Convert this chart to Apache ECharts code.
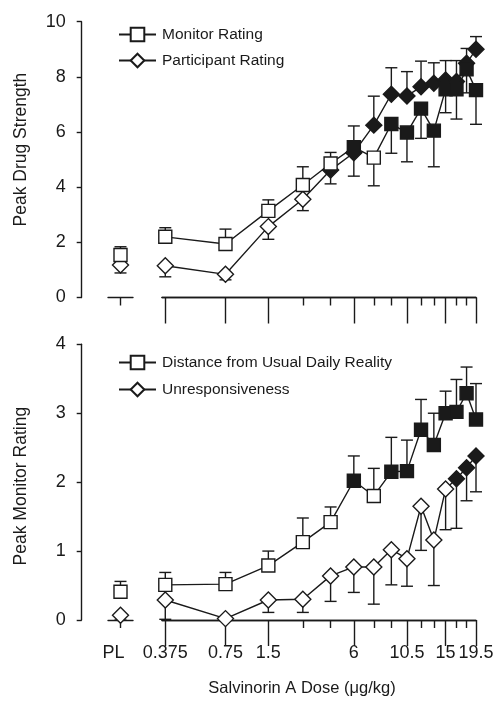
<!DOCTYPE html>
<html><head><meta charset="utf-8">
<script src="https://cdn.jsdelivr.net/npm/echarts@6/dist/echarts.min.js"></script>
<style>html,body{margin:0;padding:0;background:#fff}#c{width:500px;height:710px}</style>
</head><body><div id="c"></div>
<script>
// ---------- data ----------
const doses = [0.375, 0.75, 1.5, 3, 4.5, 6, 7.5, 9, 10.5, 12, 13.5, 15, 16.5, 18, 19.5];
const majorTickDoses = [0.375, 0.75, 1.5, 6, 10.5, 15, 19.5];
const minorTickDoses = [3, 4.5, 7.5, 9, 12, 13.5, 16.5, 18];
const doseTickLabels = ['0.375', '0.75', '1.5', '6', '10.5', '15', '19.5'];
const placeboLabel = 'PL';

// Top panel: Peak Drug Strength
const monitorMean = [2.20, 1.94, 3.14, 4.08, 4.86, 5.45, 5.07, 6.29, 5.98, 6.85, 6.05, 7.55, 7.55, 8.27, 7.52];
const monitorErr  = [0.33, 0.54, 0.40, 0.66, 0.40, 0.77, 1.02, 1.06, 1.06, 1.08, 1.31, 0.85, 1.08, 0.85, 1.24];
const monitorSig  = [0, 0, 0, 0, 0, 1, 0, 1, 1, 1, 1, 1, 1, 1, 1];
const monitorPL = [1.54], monitorPLErr = [0.30];

const participantMean = [1.15, 0.84, 2.57, 3.56, 4.62, 5.25, 6.25, 7.37, 7.31, 7.64, 7.77, 7.89, 7.83, 8.49, 9.00];
const participantErr  = [0.40, 0.20, 0.46, 0.41, 0.50, 0.85, 1.05, 0.96, 0.88, 0.93, 0.74, 0.70, 0.76, 0.54, 0.46];
const participantSig  = [0, 0, 0, 0, 1, 1, 1, 1, 1, 1, 1, 1, 1, 1, 1];
const participantPL = [1.18], participantPLErr = [0.29];

// Bottom panel: Peak Monitor Rating
const distanceMean = [0.51, 0.52, 0.79, 1.13, 1.42, 2.02, 1.80, 2.15, 2.16, 2.76, 2.54, 3.00, 3.02, 3.29, 2.91];
const distanceErr  = [0.18, 0.17, 0.21, 0.35, 0.22, 0.36, 0.40, 0.50, 0.45, 0.44, 0.46, 0.32, 0.47, 0.38, 0.52];
const distanceSig  = [0, 0, 0, 0, 0, 1, 0, 1, 1, 1, 1, 1, 1, 1, 1];
const distancePL = [0.41], distancePLErr = [0.15];

const unrespMean = [0.29, 0.02, 0.29, 0.30, 0.64, 0.77, 0.77, 1.02, 0.89, 1.65, 1.16, 1.90, 2.05, 2.21, 2.38];
const unrespErr  = [0.28, 0.02, 0.18, 0.19, 0.37, 0.37, 0.54, 0.51, 0.40, 0.64, 0.66, 0.59, 0.72, 0.48, 0.52];
const unrespSig  = [0, 0, 0, 0, 0, 0, 0, 0, 0, 0, 0, 0, 1, 1, 1];
const unrespPL = [0.07], unrespPLErr = [0.07];

// ---------- scale ----------
// Dose axis: logarithmic in (dose + 4) from 1.5 upward; the two lowest doses sit on an expanded stretch.
const LOW_DOSE_POS = {0.375: 0.984, 0.75: 1.405};
function doseScale(d) { return d >= 1.5 ? Math.log(d + 4) : LOW_DOSE_POS[d]; }
const xMin = doseScale(0.375) - 0.023;
const xMax = doseScale(19.5);
const PL_POS = 1;

const INK = '#1a1a1a';
const FONT = "'Liberation Sans', Arial, Helvetica, sans-serif";

function dirs(a, b) { return a.map((v, i) => (v >= b[i] ? 1 : -1)); }

function errorSeries(xs, means, errs, dir, xi, yi) {
  return {
    type: 'custom', xAxisIndex: xi, yAxisIndex: yi, silent: true, z: 1, animation: false,
    data: xs.map((x, i) => [x, means[i], means[i] + dir[i] * errs[i]]),
    renderItem(params, api) {
      const p0 = api.coord([api.value(0), api.value(1)]);
      const p1 = api.coord([api.value(0), api.value(2)]);
      const st = {stroke: INK, lineWidth: 1.4};
      return {type: 'group', children: [
        {type: 'line', shape: {x1: p0[0], y1: p0[1], x2: p1[0], y2: p1[1]}, style: st},
        {type: 'line', shape: {x1: p1[0] - 6, y1: p1[1], x2: p1[0] + 6, y2: p1[1]}, style: st}
      ]};
    }
  };
}
function lineSeries(name, symbol, size, xs, means, sig, xi, yi, z) {
  return {
    name, type: 'line', xAxisIndex: xi, yAxisIndex: yi, symbol, symbolSize: size, z,
    showAllSymbol: true, animation: false, silent: true,
    lineStyle: {color: INK, width: 1.4},
    itemStyle: {color: '#fff', borderColor: INK, borderWidth: 1.4},
    emphasis: {disabled: true},
    data: xs.map((x, i) => sig && sig[i] ? {value: [x, means[i]], itemStyle: {color: INK}} : {value: [x, means[i]]})
  };
}

const doseX = doses.map(doseScale);
const plX = [PL_POS];

const topTop = 21.7, topH = 275.8, botTop = 344.3, botH = 275.7;
const gridBoxes = [
  [108, topTop, 25, topH],
  [162, topTop, 314, topH],
  [108, botTop, 25, botH],
  [162, botTop, 314, botH],
  [81.7, topTop, 20, topH],
  [81.7, botTop, 20, botH]
];
const grid = gridBoxes.map(b => ({left: b[0], top: b[1], width: b[2], height: b[3],
  containLabel: false, outerBoundsMode: 'none', show: false}));

const labelMap = majorTickDoses.map((d, i) => [doseScale(d), doseTickLabels[i]]);
function doseLabel(v) {
  let best = labelMap[0];
  labelMap.forEach(p => { if (Math.abs(p[0] - v) < Math.abs(best[0] - v)) best = p; });
  return best[1];
}

const axisLine = {show: true, onZero: false, lineStyle: {color: INK, width: 1.4}};
function plXAxis(gi, showLabel) {
  return {type: 'value', gridIndex: gi, min: 0, max: 2, position: 'bottom',
    axisLine, splitLine: {show: false},
    axisTick: {show: true, length: 8, customValues: [PL_POS], lineStyle: {color: INK, width: 1.4}},
    axisLabel: {show: showLabel, customValues: [PL_POS], formatter: () => placeboLabel,
      margin: 24, fontSize: 18, color: INK, fontFamily: FONT, padding: [0, 14, 0, 0]}};
}
function mainXAxis(gi, ticks, len, showLabel, withName) {
  const ax = {type: 'value', gridIndex: gi, min: xMin, max: xMax, position: 'bottom',
    axisLine, splitLine: {show: false},
    axisTick: {show: true, length: len, customValues: ticks.map(doseScale), lineStyle: {color: INK, width: 1.4}},
    axisLabel: {show: showLabel, customValues: ticks.map(doseScale), formatter: doseLabel,
      margin: 24, fontSize: 18, color: INK, fontFamily: FONT}};
  if (withName) {
    ax.name = 'Salvinorin A Dose (μg/kg)';
    ax.nameLocation = 'middle';
    ax.nameGap = 60;
    ax.nameTextStyle = {fontSize: 16.5, color: INK, fontFamily: FONT, padding: [0, 34, 0, 0]};
  }
  return ax;
}
const hiddenParts = {show: false, axisLine: {show: false}, axisTick: {show: false},
  axisLabel: {show: false}, splitLine: {show: false}};
function hidXAxis(gi) {
  return Object.assign({type: 'value', gridIndex: gi, min: 0, max: 1}, hiddenParts);
}
function visYAxis(gi, max, interval, name, pad) {
  return {type: 'value', gridIndex: gi, min: 0, max, interval, position: 'left',
    axisLine, splitLine: {show: false},
    axisTick: {show: true, length: 5, lineStyle: {color: INK, width: 1.4}},
    axisLabel: {fontSize: 18, color: INK, fontFamily: FONT, margin: 16},
    name, nameLocation: 'middle', nameGap: 52,
    nameTextStyle: {fontSize: 17.5, color: INK, fontFamily: FONT, padding: pad}};
}
function hidYAxis(gi, max) {
  return Object.assign({type: 'value', gridIndex: gi, min: 0, max}, hiddenParts);
}

const legendText = {fontSize: 15.5, color: INK, fontFamily: FONT, padding: [0, 0, 0, 1]};
const option = {
  backgroundColor: '#fff',
  animation: false,
  grid,
  xAxis: [
    plXAxis(0, false),
    mainXAxis(1, majorTickDoses, 26, false, false),
    mainXAxis(1, minorTickDoses, 8, false, false),
    plXAxis(2, true),
    mainXAxis(3, majorTickDoses, 26, true, true),
    mainXAxis(3, minorTickDoses, 8, false, false),
    hidXAxis(4),
    hidXAxis(5)
  ],
  yAxis: [
    hidYAxis(0, 10),
    hidYAxis(1, 10),
    hidYAxis(2, 4),
    hidYAxis(3, 4),
    visYAxis(4, 10, 2, 'Peak Drug Strength', [0, 0, 0, 20]),
    visYAxis(5, 4, 1, 'Peak Monitor Rating', [0, 8, 0, 0])
  ],
  legend: [
    {orient: 'vertical', left: 113, top: 21.5, itemWidth: 37, itemHeight: 17, itemGap: 10,
      selectedMode: false, textStyle: legendText, data: ['Monitor Rating', 'Participant Rating']},
    {orient: 'vertical', left: 113, top: 349.5, itemWidth: 37, itemHeight: 17, itemGap: 11,
      selectedMode: false, textStyle: legendText, data: ['Distance from Usual Daily Reality', 'Unresponsiveness']}
  ],
  series: [
    // top panel
    errorSeries(doseX, participantMean, participantErr, dirs(participantMean, monitorMean), 1, 1),
    errorSeries(doseX, monitorMean, monitorErr, dirs(monitorMean, participantMean), 1, 1),
    errorSeries(plX, participantPL, participantPLErr, dirs(participantPL, monitorPL), 0, 0),
    errorSeries(plX, monitorPL, monitorPLErr, dirs(monitorPL, participantPL), 0, 0),
    lineSeries('Participant Rating', 'diamond', 16, doseX, participantMean, participantSig, 1, 1, 3),
    lineSeries('Monitor Rating', 'rect', 13, doseX, monitorMean, monitorSig, 1, 1, 4),
    lineSeries('Participant Rating', 'diamond', 16, plX, participantPL, null, 0, 0, 3),
    lineSeries('Monitor Rating', 'rect', 13, plX, monitorPL, null, 0, 0, 4),
    // bottom panel
    errorSeries(doseX, unrespMean, unrespErr, dirs(unrespMean, distanceMean), 4, 3),
    errorSeries(doseX, distanceMean, distanceErr, dirs(distanceMean, unrespMean), 4, 3),
    errorSeries(plX, unrespPL, unrespPLErr, dirs(unrespPL, distancePL), 3, 2),
    errorSeries(plX, distancePL, distancePLErr, dirs(distancePL, unrespPL), 3, 2),
    lineSeries('Distance from Usual Daily Reality', 'rect', 13, doseX, distanceMean, distanceSig, 4, 3, 4),
    lineSeries('Unresponsiveness', 'diamond', 16, doseX, unrespMean, unrespSig, 4, 3, 3),
    lineSeries('Distance from Usual Daily Reality', 'rect', 13, plX, distancePL, null, 3, 2, 4),
    lineSeries('Unresponsiveness', 'diamond', 16, plX, unrespPL, null, 3, 2, 3)
  ]
};
const chart = echarts.init(document.getElementById('c'), null, {renderer: 'canvas'});
chart.setOption(option);
</script></body></html>
